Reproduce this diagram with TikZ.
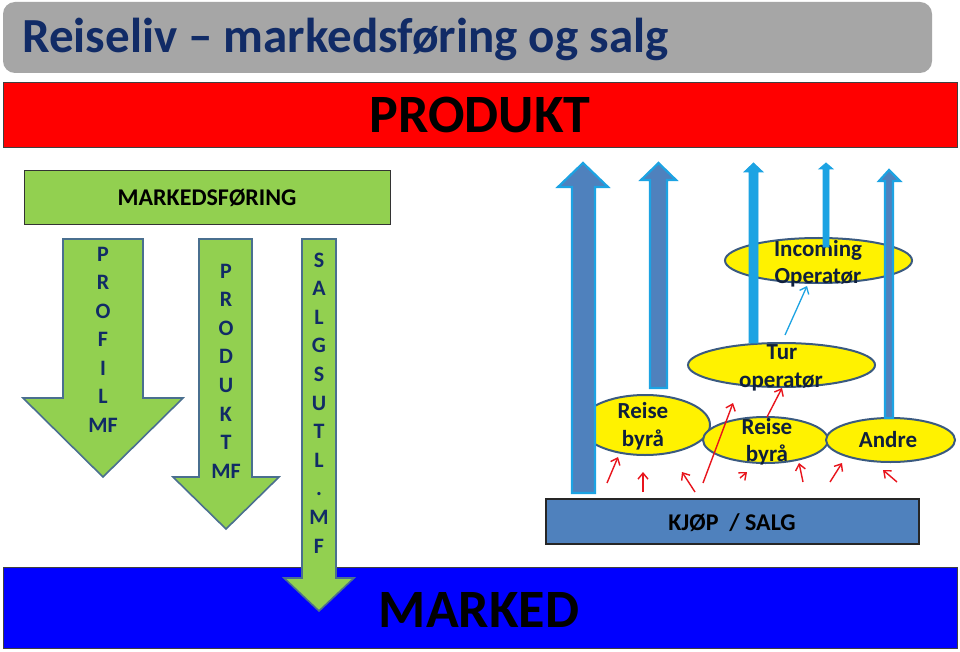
\documentclass[tikz,border=0pt]{standalone}
\usepackage{fontspec}
\setmainfont{Carlito}
\usetikzlibrary{shapes.geometric,arrows.meta}
\definecolor{navy}{HTML}{112B66}
\definecolor{titlegray}{HTML}{A6A6A6}
\definecolor{mfgreen}{HTML}{92D050}
\definecolor{arrborder}{HTML}{4A6F8F}
\definecolor{steel}{HTML}{4F81BD}
\definecolor{lightblue}{HTML}{1CA3E3}
\definecolor{ellborder}{HTML}{3A5A80}
\definecolor{darktext}{HTML}{0F1F3D}
\definecolor{arrred}{HTML}{E8141C}
\newcommand\fsz[1]{\fontsize{#1pt}{#1pt}\selectfont}
\begin{document}
\begin{tikzpicture}[x=1pt,y=-1pt,
  greenarrow/.style={fill=mfgreen, draw=arrborder, line width=1.6pt, line join=miter},
  upthick/.style={fill=steel, draw=lightblue, line width=2.2pt, line join=miter},
  upthin/.style={fill=lightblue, draw=lightblue, line width=0.8pt, line join=miter},
  letter/.style={font=\fsz{22}\bfseries, text=navy, inner sep=0, anchor=base},
  elltext/.style={font=\fsz{23}\bfseries, text=darktext, inner sep=0, anchor=base},
  yell/.style={ellipse, fill=yellow, draw=ellborder, line width=2pt, inner sep=0},
  redarr/.style={draw=arrred, line width=1.4pt, -{Straight Barb[length=6pt,width=10pt]}},
  bluearr/.style={draw=lightblue, line width=1.3pt, -{Straight Barb[length=6pt,width=10pt]}}
]
\useasboundingbox (0,0) rectangle (960,652);
\fill[white] (0,0) rectangle (960,652);

% title bar
\fill[titlegray, rounded corners=12pt] (3,2) rectangle (932,73);
\node[anchor=base west, font=\fsz{49}\bfseries, text=navy, inner sep=0] (title) at (22,53) {Reiseliv – markedsføring og salg};

% PRODUKT bar
\draw[fill=red, draw=black!75, line width=0.8pt] (3,82) rectangle (957,147);
\node[anchor=base, font=\fsz{54}\bfseries, text=black, inner sep=0] (produkt) at (480,133) {PRODUKT};

% MARKED bar
\draw[fill=blue, draw=black!75, line width=0.8pt] (3,567) rectangle (957,648);
\node[anchor=base, font=\fsz{54}\bfseries, text=black, inner sep=0] (marked) at (479,627) {MARKED};

% MARKEDSFORING box
\draw[fill=mfgreen, draw=black!80, line width=1pt] (24,171) rectangle (390,225);
\node[anchor=base, font=\fsz{24}\bfseries, text=black, inner sep=0] (mf) at (207,206) {MARKEDSFØRING};

% green down arrows
\draw[greenarrow] (63,239) -- (143,239) -- (143,398) -- (183,398) -- (103,477) -- (23,398) -- (63,398) -- cycle;
\draw[greenarrow] (199,239) -- (252,239) -- (252,477) -- (279,477) -- (226,529) -- (173,477) -- (199,477) -- cycle;
\draw[greenarrow] (302,239) -- (336,239) -- (336,578) -- (354,578) -- (319,611) -- (284,578) -- (302,578) -- cycle;

\foreach \t [count=\i] in {P,R,O,F,I,L,MF}
  \node[letter] (pa\i) at (103,{261+(\i-1)*28.5}) {\t};
\foreach \t [count=\i] in {P,R,O,D,U,K,T,MF}
  \node[letter] (pb\i) at (226,{278+(\i-1)*28.6}) {\t};
\foreach \t [count=\i] in {S,A,L,G,S,U,T,L,.,M,F}
  \node[letter] (pc\i) at (319,{267+(\i-1)*28.6}) {\t};

% ellipses
\node[yell, minimum width=130pt, minimum height=60pt] (rb1) at (645,425) {};
\node[yell, minimum width=125pt, minimum height=46pt] (rb2) at (765.5,440) {};
\node[yell, minimum width=129pt, minimum height=44pt] (andre) at (890.5,440) {};
\node[yell, minimum width=187pt, minimum height=44pt] (tur) at (781.5,365) {};
\node[yell, minimum width=187pt, minimum height=45pt] (inc) at (818.5,260.5) {};

% ellipse texts
\node[elltext] (rb1a) at (643,418) {Reise};
\node[elltext] (rb1b) at (643,446) {byrå};
\node[elltext] (rb2a) at (767,434) {Reise};
\node[elltext] (rb2b) at (767,461) {byrå};
\node[elltext] (andret) at (888,447) {Andre};
\node[elltext] (tura) at (782,359) {Tur};
\node[elltext] (turb) at (781,387) {operatør};
\node[elltext] (inca) at (818,256) {Incoming};
\node[elltext] (incb) at (818,283) {Operatør};

% up arrows
\draw[upthick] (572,493) -- (572,187) -- (558,187) -- (583,163) -- (608,187) -- (595,187) -- (595,493) -- cycle;
\draw[upthick] (650,388) -- (650,180) -- (641,180) -- (658.5,163) -- (676,180) -- (667,180) -- (667,388) -- cycle;
\draw[upthin] (749,343) -- (749,172) -- (744,172) -- (753.5,163) -- (763,172) -- (758,172) -- (758,343) -- cycle;
\draw[upthin] (823,247) -- (823,169) -- (819,169) -- (826,163) -- (833,169) -- (829,169) -- (829,247) -- cycle;
\draw[upthick] (885,418) -- (885,181) -- (879,181) -- (889,170) -- (900,181) -- (893,181) -- (893,418) -- cycle;

% KJOP / SALG
\draw[fill=steel, draw=black!85, line width=1.2pt] (546,499) rectangle (919,544);
\node[anchor=base, font=\fsz{24}\bfseries, text=black, inner sep=0] (kjop) at (732,530) {KJØP\ \ / SALG};

% blue thin arrow
\coordinate (b0) at (785,335);
\coordinate (b1) at (807,286);
\draw[bluearr] (b0) -- (b1);

% red arrows
\foreach \xa/\ya/\xb/\yb [count=\i] in {607/483/618/457, 643/492/643/472, 695/492/682/472, 703/483/733/403, 740/478/747/472, 767/417/782/388, 803/482/799/463, 830/482/842/463, 897/482/883/470}{
  \coordinate (r\i s) at (\xa,\ya);
  \coordinate (r\i e) at (\xb,\yb);
  \draw[redarr] (r\i s) -- (r\i e);
}
\end{tikzpicture}
\end{document}
